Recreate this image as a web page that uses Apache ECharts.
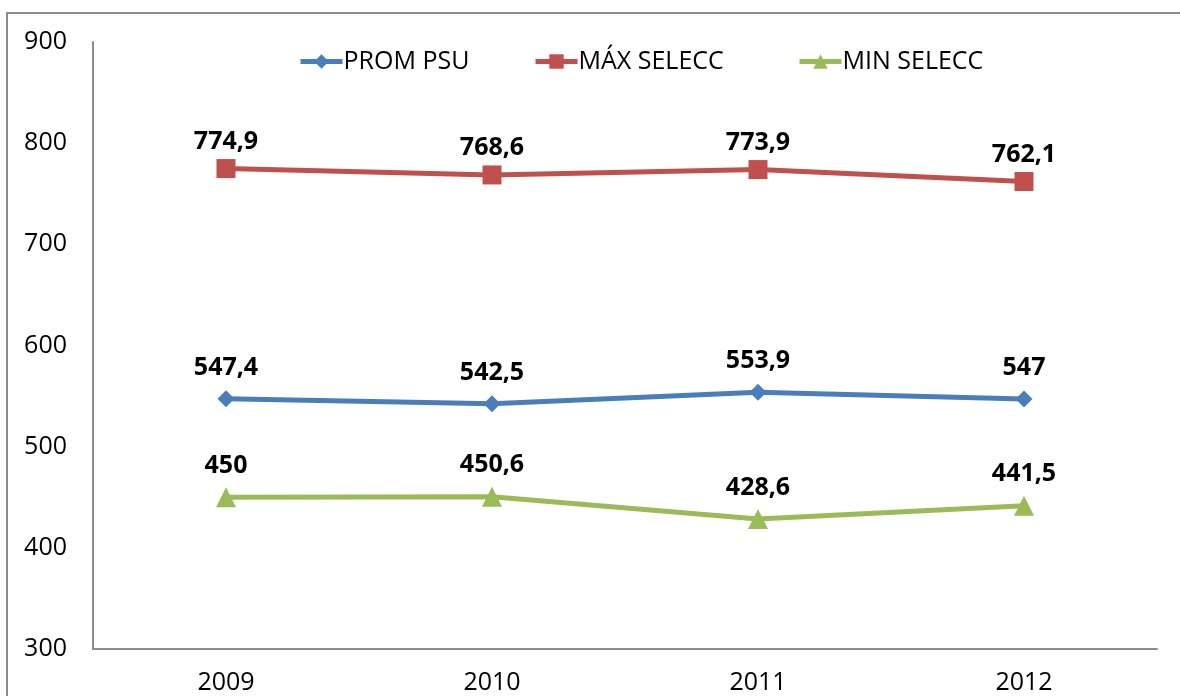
<!DOCTYPE html>
<html>
<head>
<meta charset="utf-8">
<script src="https://cdn.jsdelivr.net/npm/echarts@6/dist/echarts.min.js"></script>
<style>
  html, body { margin: 0; padding: 0; background: #fff; }
  #chart { width: 1180px; height: 696px; }
</style>
</head>
<body>
<div id="chart"></div>
<script>
// data
var years = ['2009', '2010', '2011', '2012'];
var seriesNames = ['PROM PSU', 'MÁX SELECC', 'MIN SELECC'];
var promPsu = [547.4, 542.5, 553.9, 547];
var maxSelecc = [774.9, 768.6, 773.9, 762.1];
var minSelecc = [450, 450.6, 428.6, 441.5];

var fontName = '"Open Sans", "DejaVu Sans", sans-serif';

function lineSeries(name, data, color, symbol, size, labelGap) {
  return {
    name: name,
    type: 'line',
    data: data,
    symbol: symbol,
    symbolSize: size,
    lineStyle: { color: color, width: 5 },
    itemStyle: { color: color },
    label: {
      show: true,
      position: 'top',
      distance: labelGap,
      color: '#000',
      fontWeight: 'bold',
      fontSize: 25,
      fontFamily: fontName,
      formatter: function (p) { return String(p.value).replace('.', ','); }
    }
  };
}

// one legend per item so each sits where it does in the picture
function legendAt(name, left) {
  return {
    left: left,
    top: 44,
    itemWidth: 42,
    itemHeight: 18,
    lineStyle: { width: 5 },
    textStyle: { fontSize: 25, color: '#000', fontFamily: fontName, padding: [0, 0, 0, -4] },
    data: [name]
  };
}

var chart = echarts.init(document.getElementById('chart'));
chart.setOption({
  animation: false,
  graphic: [{
    type: 'rect',
    shape: { x: 7, y: 13, width: 1200, height: 720 },
    style: { fill: 'none', stroke: '#8c8c8c', lineWidth: 2 }
  }],
  legend: [
    legendAt(seriesNames[0], 293),
    legendAt(seriesNames[1], 528),
    legendAt(seriesNames[2], 792)
  ],
  grid: { left: 93, right: 23, top: 42, bottom: 47 },
  xAxis: {
    type: 'category',
    data: years,
    boundaryGap: true,
    axisTick: { show: false },
    axisLine: { lineStyle: { color: '#8c8c8c', width: 2 } },
    axisLabel: { fontSize: 25, color: '#000', fontFamily: fontName, margin: 21 }
  },
  yAxis: {
    type: 'value',
    min: 300,
    max: 900,
    interval: 100,
    splitLine: { show: false },
    axisTick: { show: false },
    axisLine: { show: true, lineStyle: { color: '#8c8c8c', width: 2 } },
    axisLabel: { fontSize: 25, color: '#000', fontFamily: fontName, margin: 26, padding: [6, 0, 0, 0] }
  },
  series: [
    lineSeries(seriesNames[0], promPsu, '#4a7ebb', 'diamond', 17, 10),
    lineSeries(seriesNames[1], maxSelecc, '#c0504d', 'rect', 19, 5),
    lineSeries(seriesNames[2], minSelecc, '#9bbb59', 'triangle', 20, 9)
  ]
});
</script>
</body>
</html>
